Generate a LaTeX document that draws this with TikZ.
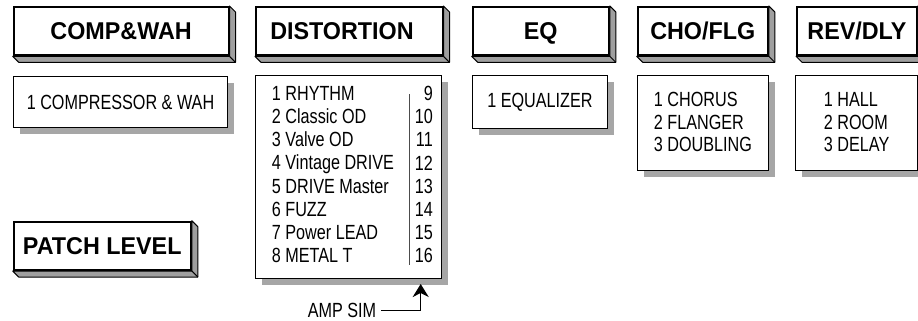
\documentclass[tikz,border=0pt]{standalone}
\usepackage{fontspec}
\setmainfont{Liberation Sans}
\newfontfamily\headfont{Liberation Sans}[FakeStretch=0.96]
\newfontfamily\narrowfont{Liberation Sans}[FakeStretch=0.79]
\usetikzlibrary{arrows.meta, positioning, shadows}

\begin{document}
\begin{tikzpicture}[
    x=1pt, y=-1pt,
    head/.style={rectangle, draw, line width=1.8pt, fill=white, anchor=north west, minimum height=48.5pt, inner sep=0pt, text height=16.8pt, text depth=0pt, font=\headfont\fontsize{24.3}{28}\selectfont\bfseries},
    side/.style={draw, fill=gray!75, line width=1pt, line join=round},
    listbox/.style={rectangle, draw, line width=1.3pt, fill=white, anchor=north west, inner sep=0pt, align=left, font=\narrowfont\fontsize{20.5}{22.6}\selectfont, drop shadow={shadow xshift=6.5pt, shadow yshift=-6.5pt, fill=gray!70, opacity=1}},
    listtext/.style={inner sep=0pt, font=\narrowfont\fontsize{20.5}{23.2}\selectfont},
    divider/.style={draw=black!70, line width=1.3pt},
    arrow/.style={-{Stealth[length=13pt, width=16pt, inset=4pt]}, line width=1.3pt}
]
\useasboundingbox (0,0) rectangle (918,321);

% Effect headers
\node (comp_head) at (12.7,6) [head, minimum width=215pt] {COMP\&WAH};
\node (dist_head) at (255,6) [head, minimum width=186.7pt, text width=158pt, align=left, inner xsep=14.3pt] {DISTORTION};
\node (eq_head) at (471.7,6) [head, minimum width=136.3pt] {EQ};
\node (cho_head) at (636.7,6) [head, minimum width=130.3pt] {CHO/FLG};
\node (rev_head) at (796,6) [head, minimum width=120pt] {REV/DLY};
\node (patch_head) at (12.7,220.7) [head, minimum width=177.3pt] {PATCH LEVEL};

% 3D edges of the headers
\foreach \n in {comp_head, dist_head, eq_head, cho_head, rev_head, patch_head} {
  \filldraw[side] (\n.south west) -- ++(6,6) -| ([shift={(6,6)}]\n.north east) -- (\n.north east) -- (\n.south east) -- cycle;
  \draw[line width=1pt] (\n.south east) -- ++(6,6);
}

% Type lists
\node (comp_list) at (12.7,76) [listbox, minimum width=214.3pt, minimum height=51pt] {1 COMPRESSOR \& WAH};
\node (dist_list) at (255,75) [listbox, minimum width=185.7pt, minimum height=202.7pt] {};
\node (dist_names) [listtext, align=left, below right=11pt and 16.7pt of dist_list.north west] {1 RHYTHM\\2 Classic OD\\3 Valve OD\\4 Vintage DRIVE\\5 DRIVE Master\\6 FUZZ\\7 Power LEAD\\8 METAL T};
\node (dist_nums) [listtext, align=right, below left=11pt and 9pt of dist_list.north east] {9\\10\\11\\12\\13\\14\\15\\16};
\node (eq_list) at (471.7,75) [listbox, minimum width=135.3pt, minimum height=53pt] {1 EQUALIZER};
\node (cho_list) at (637,75) [listbox, minimum width=130.7pt, minimum height=95pt, text depth=2pt] {1 CHORUS\\2 FLANGER\\3 DOUBLING};
\node (rev_list) at (795,75) [listbox, minimum width=122pt, minimum height=95pt, text depth=2pt] {1 HALL\\2 ROOM\\3 DELAY};

\draw[divider] ([shift={(-5.4,8)}]dist_nums.north west) -- ([shift={(-5.4,2)}]dist_nums.south west);

% Amp simulator mark
\node (amp_sim) at (342,310.7) [listtext, inner xsep=5pt] {AMP SIM};
\coordinate (amp_tip) at ([shift={(-21.3,5)}]dist_list.south east);
\draw[arrow] (amp_sim) -| (amp_tip);

\end{tikzpicture}
\end{document}
